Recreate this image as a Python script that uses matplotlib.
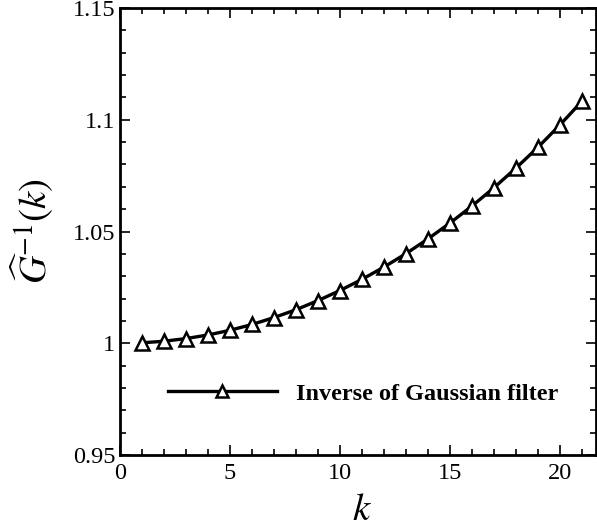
import matplotlib
matplotlib.use("Agg")
import matplotlib.pyplot as plt
from matplotlib.ticker import MultipleLocator

k = list(range(1, 22))
g_inv = [1.0002, 1.0009, 1.0021, 1.0037, 1.0058, 1.0084, 1.0115, 1.0150, 1.0191,
         1.0236, 1.0286, 1.0341, 1.0401, 1.0467, 1.0538, 1.0614, 1.0696, 1.0784,
         1.0877, 1.0977, 1.1083]
series_label = "Inverse of Gaussian filter"
x_ticks = [0, 5, 10, 15, 20]
y_ticks = [0.95, 1.0, 1.05, 1.1, 1.15]
y_ticklabels = ["0.95", "1", "1.05", "1.1", "1.15"]

plt.rcParams['font.family'] = ['Liberation Serif', 'DejaVu Serif']
plt.rcParams['mathtext.fontset'] = 'stix'

W, H = 597, 531
fig = plt.figure(figsize=(W / 100, H / 100), dpi=100)
L, R, T, B = 120, 596, 8, 455
ax = fig.add_axes([L / W, 1 - B / H, (R - L) / W, (B - T) / H])

ax.plot(k, g_inv, color='black', lw=2.4, marker='^', markersize=10,
        markerfacecolor='white', markeredgecolor='black', markeredgewidth=1.8,
        label=series_label)

ax.set_xlim(0, (R - L) / 22)
ax.set_ylim(0.95, 1.15)
ax.set_xticks(x_ticks)
ax.set_yticks(y_ticks)
ax.set_yticklabels(y_ticklabels)
ax.xaxis.set_minor_locator(MultipleLocator(1))
ax.yaxis.set_minor_locator(MultipleLocator(0.01))
ax.tick_params(which='both', direction='in', top=True, right=True, labelsize=17.5, width=1.2)
ax.tick_params(which='major', length=7)
ax.tick_params(which='minor', length=4)
ax.tick_params(axis='x', pad=6)
for s in ax.spines.values():
    s.set_linewidth(2)

ax.set_xlabel(r'$k$', fontsize=28)
ax.xaxis.set_label_coords(0.508, -0.082)
ax.set_ylabel(r'$\widehat{G}^{\mathrm{-1}}(k)$', fontsize=28)
ax.yaxis.set_label_coords(-0.135, 0.5)

leg = ax.legend(loc='lower left', bbox_to_anchor=(0.10, 0.112), frameon=False,
                prop={'weight': 'bold', 'size': 17.5}, handlelength=4.5, handletextpad=0.8,
                borderpad=0, borderaxespad=0, markerscale=0.9)

fig.savefig('out.png', dpi=100)
